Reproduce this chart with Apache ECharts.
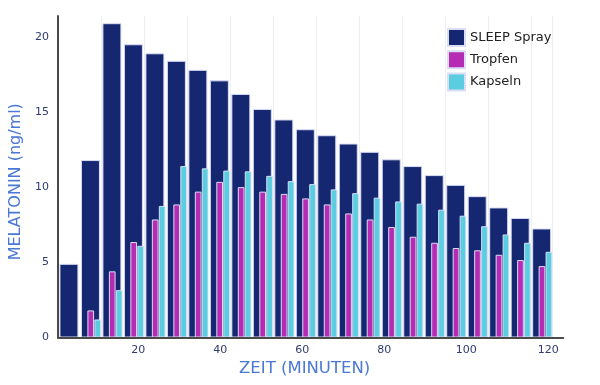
<!DOCTYPE html>
<html><head><meta charset="utf-8">
<script src="https://cdn.jsdelivr.net/npm/echarts@6/dist/echarts.min.js"></script>
<style>html,body{margin:0;padding:0;background:#fff}#c{width:600px;height:385px}</style>
</head><body><div id="c"></div>
<script>
// Data
const times = [5,10,15,20,25,30,35,40,45,50,55,60,65,70,75,80,85,90,95,100,105,110,115];
const spray = [4.9, 11.8, 20.9, 19.5, 18.9, 18.4, 17.8, 17.1, 16.2, 15.2, 14.5, 13.85, 13.45, 12.9, 12.35, 11.85, 11.4, 10.8, 10.15, 9.4, 8.65, 7.95, 7.25];
const tropfen = [null, 1.8, 4.4, 6.35, 7.85, 8.85, 9.7, 10.35, 10.0, 9.7, 9.55, 9.25, 8.85, 8.25, 7.85, 7.35, 6.7, 6.3, 5.95, 5.8, 5.5, 5.15, 4.75];
const kapseln = [null, 1.2, 3.15, 6.1, 8.75, 11.4, 11.25, 11.1, 11.05, 10.75, 10.4, 10.2, 9.85, 9.6, 9.3, 9.05, 8.9, 8.5, 8.1, 7.4, 6.85, 6.3, 5.7];
const xTicks = [20, 40, 60, 80, 100, 120];
const yTicks = [0, 5, 10, 15, 20];
const seriesNames = ['SLEEP Spray', 'Tropfen', 'Kapseln'];

const FONT = 'DejaVu Sans';
const TICK_COLOR = '#2e3b70';
const TITLE_COLOR = '#4a78d4';
const AXIS_COLOR = '#4a4a4a';
const BORDER = '#d9def5';
const Y_MAX = 21.38;

const chart = echarts.init(document.getElementById('c'), null, {renderer: 'canvas'});
chart.setOption({
  animation: false,
  backgroundColor: '#ffffff',
  textStyle: {fontFamily: FONT},
  grid: [
    {left: 57, right: 36.7, top: 16, bottom: 47.5},
    {left: 58.2, right: 47.6, top: 16, bottom: 47.5},
    {left: 62, right: 43.8, top: 16, bottom: 47.5}
  ],
  legend: {
    data: seriesNames,
    orient: 'vertical',
    left: 442, top: 23,
    itemWidth: 17, itemHeight: 17, itemGap: 3.3,
    icon: 'rect',
    textStyle: {fontFamily: FONT, fontSize: 13, color: '#222222'}
  },
  xAxis: [
    {
      gridIndex: 0, type: 'value', min: 0.44, max: 123.7, z: 5,
      axisLine: {show: true, lineStyle: {color: AXIS_COLOR, width: 2}},
      axisTick: {show: false},
      splitLine: {show: false},
      axisLabel: {customValues: xTicks, color: TICK_COLOR, fontFamily: FONT, fontSize: 11, margin: 7},
      name: 'ZEIT (MINUTEN)', nameLocation: 'middle', nameGap: 21,
      nameTextStyle: {color: TITLE_COLOR, fontFamily: FONT, fontSize: 16.5, padding: [0, 12, 0, 0]}
    },
    {
      gridIndex: 1, type: 'category', data: times, boundaryGap: true,
      axisLine: {show: false}, axisTick: {show: false}, axisLabel: {show: false},
      splitLine: {show: true, lineStyle: {color: '#eceef3', width: 1}}
    },
    {
      gridIndex: 2, type: 'category', data: times, boundaryGap: true,
      axisLine: {show: false}, axisTick: {show: false}, axisLabel: {show: false},
      splitLine: {show: false}
    }
  ],
  yAxis: [
    {
      gridIndex: 0, type: 'value', min: 0, max: Y_MAX, z: 5,
      axisLine: {show: true, lineStyle: {color: AXIS_COLOR, width: 2}},
      axisTick: {show: false},
      splitLine: {show: false},
      axisLabel: {customValues: yTicks, color: TICK_COLOR, fontFamily: FONT, fontSize: 11, margin: 9},
      name: 'MELATONIN (ng/ml)', nameLocation: 'middle', nameGap: 34,
      nameTextStyle: {color: TITLE_COLOR, fontFamily: FONT, fontSize: 16, padding: [0, 10, 0, 0]}
    },
    {gridIndex: 1, type: 'value', min: 0, max: Y_MAX, show: false},
    {gridIndex: 2, type: 'value', min: 0, max: Y_MAX, show: false}
  ],
  series: [
    {
      name: seriesNames[0], type: 'bar', xAxisIndex: 1, yAxisIndex: 1,
      data: spray, barWidth: 19,
      itemStyle: {color: '#152770', borderColor: BORDER, borderWidth: 1}
    },
    {
      name: seriesNames[1], type: 'bar', xAxisIndex: 2, yAxisIndex: 2,
      data: tropfen, barWidth: 6.7, barGap: '4%',
      itemStyle: {color: '#b52bb4', borderColor: BORDER, borderWidth: 1}
    },
    {
      name: seriesNames[2], type: 'bar', xAxisIndex: 2, yAxisIndex: 2,
      data: kapseln, barWidth: 6.7, barGap: '4%',
      itemStyle: {color: '#5acde0', borderColor: BORDER, borderWidth: 1}
    }
  ]
});
</script>
</body></html>
